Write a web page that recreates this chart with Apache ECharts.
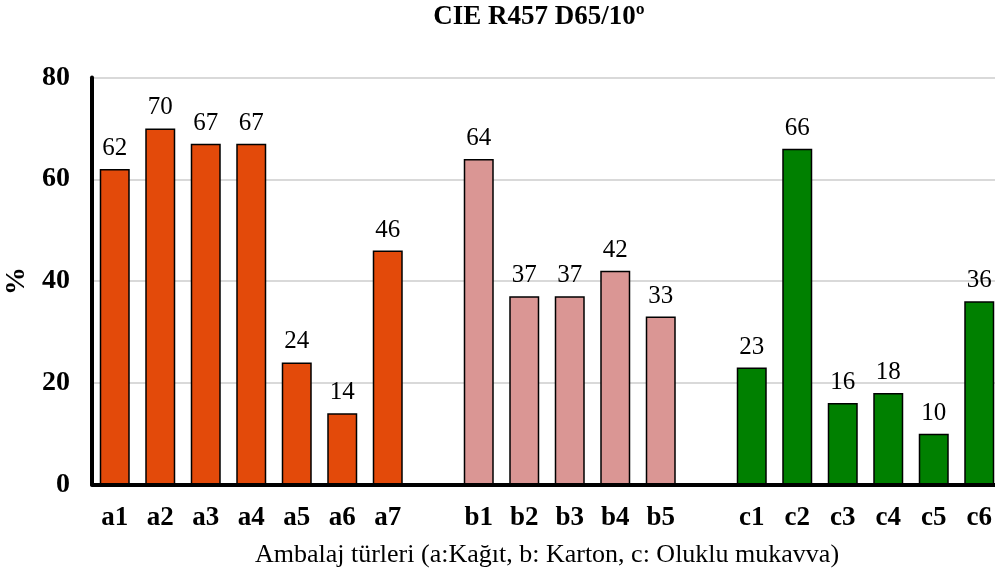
<!DOCTYPE html>
<html><head><meta charset="utf-8">
<script src="https://cdn.jsdelivr.net/npm/echarts@6/dist/echarts.min.js"></script>
<style>html,body{margin:0;padding:0;background:#fff}#c{width:995px;height:576px}</style>
</head><body><div id="c"></div>
<script>
const titleText = 'CIE R457 D65/10º';
const xName = 'Ambalaj türleri (a:Kağıt, b: Karton, c: Oluklu mukavva)';
const yName = '%';
const groupA = ['a1','a2','a3','a4','a5','a6','a7'];
const valuesA = [62,70,67,67,24,14,46];
const groupB = ['b1','b2','b3','b4','b5'];
const valuesB = [64,37,37,42,33];
const groupC = ['c1','c2','c3','c4','c5','c6'];
const valuesC = [23,66,16,18,10,36];
const colors = ['#E34A0A','#DA9694','#008000'];
const yTicks = [0,20,40,60,80];

const categories = [];
const data = [];
[[groupA,valuesA],[groupB,valuesB],[groupC,valuesC]].forEach(([cats,vals],gi)=>{
  if (gi>0){ categories.push(''); data.push(null); }
  cats.forEach((c,i)=>{ categories.push(c); data.push({value: vals[i], itemStyle:{color: colors[gi]}}); });
});

const FONT = '"Liberation Serif", "Times New Roman", serif';
const chart = echarts.init(document.getElementById('c'), null, {renderer:'canvas'});
chart.setOption({
  animation:false,
  textStyle:{fontFamily:FONT},
  title:{text:titleText, left:534, textAlign:'center', top:-1, textStyle:{fontFamily:FONT, fontWeight:'bold', fontSize:27, color:'#000'}},
  grid:{left:92, right:-7, top:77.5, bottom:91.5, containLabel:false, outerBoundsMode:'none'},
  xAxis:{type:'category', data:categories,
    axisLine:{lineStyle:{color:'#000', width:4}},
    axisTick:{show:false},
    axisLabel:{interval:0, fontFamily:FONT, fontWeight:'bold', fontSize:27, color:'#000', margin:20},
    name:xName, nameLocation:'middle', nameGap:58,
    nameTextStyle:{fontFamily:FONT, fontSize:26, color:'#000'}
  },
  yAxis:{type:'value', min:yTicks[0], max:yTicks[yTicks.length-1], interval:20,
    axisLine:{show:true, lineStyle:{color:'#000', width:4}},
    axisTick:{show:false},
    splitLine:{lineStyle:{color:'#d9d9d9', width:2}},
    axisLabel:{fontFamily:FONT, fontWeight:'bold', fontSize:28, color:'#000', margin:22},
    name:yName, nameLocation:'middle', nameGap:54, nameRotate:90,
    nameTextStyle:{fontFamily:FONT, fontWeight:'bold', fontSize:28, color:'#000'}
  },
  series:[{type:'bar', data:data, barWidth:30,
    itemStyle:{borderColor:'#000', borderWidth:1.5},
    label:{show:true, position:'top', distance:8, fontFamily:FONT, fontSize:25, color:'#000'}
  }]
});
</script></body></html>
